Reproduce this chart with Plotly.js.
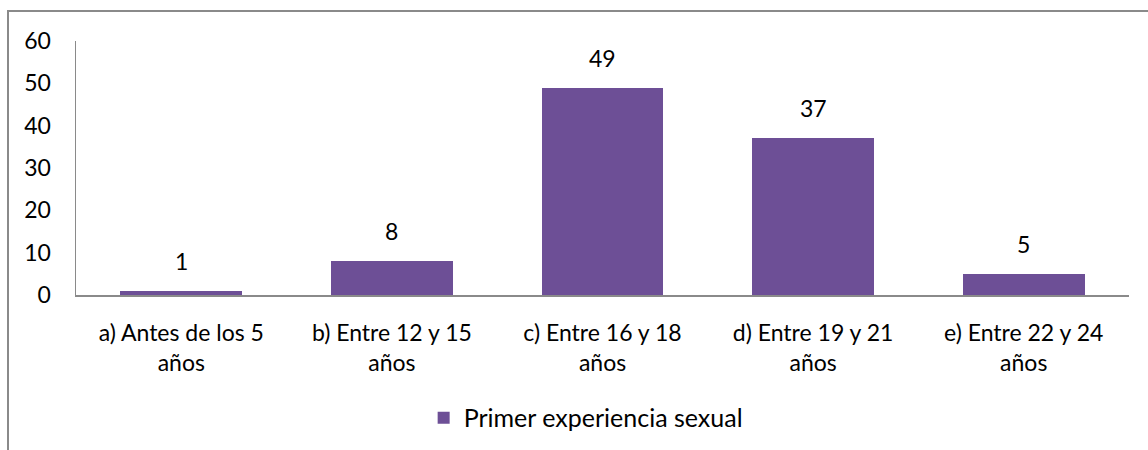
<!DOCTYPE html>
<html>
<head>
<meta charset="utf-8">
<script src="https://cdn.plot.ly/plotly-3.0.1.min.js"></script>
<style>
  html, body { margin: 0; padding: 0; background: #ffffff; }
  #frame { position: absolute; left: 7px; top: 10px; width: 1160px; height: 460px;
           border-left: 2px solid #8a8a8a; border-top: 2px solid #8a8a8a; box-sizing: border-box; }
  #chart { position: absolute; left: 0; top: 0; width: 1148px; height: 450px; }
</style>
</head>
<body>
<div id="frame"></div>
<div id="chart"></div>
<script>
const categories = [
  "a) Antes de los 5<br>años",
  "b) Entre 12 y 15<br>años",
  "c) Entre 16 y 18<br>años",
  "d) Entre 19 y 21<br>años",
  "e) Entre 22 y 24<br>años"
];
const values = [1, 8, 49, 37, 5];
const seriesName = "Primer experiencia sexual";
const yTicks = [0, 10, 20, 30, 40, 50, 60];

const FONT = "Lato, Carlito, Calibri, 'Noto Sans', sans-serif";
const FS = 23;
const barColor = "#6d4f96";

const trace = {
  type: "bar",
  x: categories,
  y: values,
  name: seriesName,
  width: 0.578,
  marker: { color: barColor, line: { width: 0 } },
  hoverinfo: "skip",
  showlegend: true
};

const annotations = values.map((v, i) => ({
  x: categories[i], y: v, xref: "x", yref: "y",
  text: String(v), showarrow: false,
  yanchor: "bottom", yshift: 14,
  font: { family: FONT, size: FS, color: "#000" }
}));

const layout = {
  width: 1148, height: 450,
  margin: { l: 76, r: 18.5, t: 41, b: 155, autoexpand: false },
  paper_bgcolor: "rgba(0,0,0,0)",
  plot_bgcolor: "rgba(0,0,0,0)",
  font: { family: FONT, size: FS, color: "#000" },
  bargap: 0,
  xaxis: {
    type: "category",
    showline: true, linecolor: "#8a8a8a", linewidth: 1.5,
    showgrid: false, zeroline: false,
    ticks: "", ticklabelstandoff: 17,
    tickfont: { family: FONT, size: FS, color: "#000" },
    fixedrange: true
  },
  yaxis: {
    range: [0, 60],
    tickvals: yTicks,
    ticktext: yTicks.map(String),
    showline: true, linecolor: "#8a8a8a", linewidth: 1.5,
    showgrid: false, zeroline: false,
    ticks: "", ticklabelstandoff: 19,
    tickfont: { family: FONT, size: FS, color: "#000" },
    fixedrange: true
  },
  showlegend: true,
  legend: {
    orientation: "h",
    x: 0.484, xanchor: "center",
    y: -0.484, yanchor: "middle",
    font: { family: FONT, size: 25, color: "#000" },
    itemwidth: 30,
    bgcolor: "rgba(0,0,0,0)"
  },
  annotations: annotations
};

Plotly.newPlot("chart", [trace], layout, { displayModeBar: false, staticPlot: true });
</script>
</body>
</html>
